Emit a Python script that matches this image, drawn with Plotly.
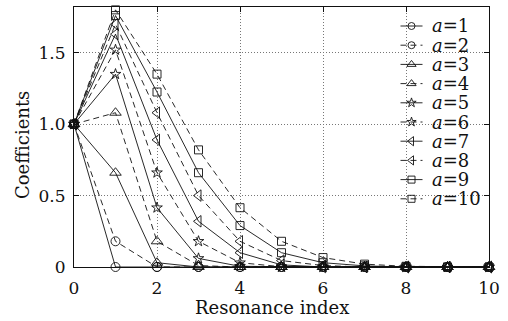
import plotly.graph_objects as go

# Resonance index n = 0..10
resonance_index = [0, 1, 2, 3, 4, 5, 6, 7, 8, 9, 10]

# Coefficient values for each parameter a
coef_a1 = [1.0, 0.00, 0.00, 0.00, 0.00, 0.00, 0.00, 0.00, 0.00, 0.00, 0.00]
coef_a2 = [1.0, 0.18, 0.00, 0.00, 0.00, 0.00, 0.00, 0.00, 0.00, 0.00, 0.00]
coef_a3 = [1.0, 0.66, 0.03, 0.00, 0.00, 0.00, 0.00, 0.00, 0.00, 0.00, 0.00]
coef_a4 = [1.0, 1.08, 0.18, 0.01, 0.00, 0.00, 0.00, 0.00, 0.00, 0.00, 0.00]
coef_a5 = [1.0, 1.35, 0.415, 0.06, 0.005, 0.00, 0.00, 0.00, 0.00, 0.00, 0.00]
coef_a6 = [1.0, 1.52, 0.66, 0.18, 0.03, 0.002, 0.00, 0.00, 0.00, 0.00, 0.00]
coef_a7 = [1.0, 1.63, 0.89, 0.32, 0.10, 0.015, 0.00, 0.00, 0.00, 0.00, 0.00]
coef_a8 = [1.0, 1.70, 1.08, 0.50, 0.18, 0.045, 0.01, 0.00, 0.00, 0.00, 0.00]
coef_a9 = [1.0, 1.76, 1.225, 0.66, 0.29, 0.10, 0.03, 0.008, 0.00, 0.00, 0.00]
coef_a10 = [1.0, 1.80, 1.35, 0.82, 0.415, 0.18, 0.066, 0.02, 0.005, 0.00, 0.00]

series_names = ["a=1", "a=2", "a=3", "a=4", "a=5", "a=6", "a=7", "a=8", "a=9", "a=10"]
series_labels = ["<i>a</i>=1", "<i>a</i>=2", "<i>a</i>=3", "<i>a</i>=4", "<i>a</i>=5",
                 "<i>a</i>=6", "<i>a</i>=7", "<i>a</i>=8", "<i>a</i>=9", "<i>a</i>=10"]
series_values = [coef_a1, coef_a2, coef_a3, coef_a4, coef_a5,
                 coef_a6, coef_a7, coef_a8, coef_a9, coef_a10]

x_ticks = [0, 2, 4, 6, 8, 10]
y_ticks = [0, 0.5, 1.0, 1.5]
y_tick_text = ["0", "0.5", "1.0", "1.5"]

symbols = ["circle-open", "circle-open", "triangle-up-open", "triangle-up-open",
           "star-open", "star-open", "triangle-left-open", "triangle-left-open",
           "square-open", "square-open"]
marker_sizes = [9, 9, 10, 10, 8, 8, 10, 10, 8, 8]
legend_marker_sizes = [7, 7, 8, 8, 7, 7, 8, 8, 7, 7]
dashes = ["solid", "6px,4px"] * 5

FONT = "DejaVu Serif"
INK = "#111111"

W, H = 508, 321
ML, MR, MT, MB = 74, 19, 7, 54
PW, PH = W - ML - MR, H - MT - MB


def px_to_paper(xp, yp):
    return (xp - ML) / PW, (H - MB - yp) / PH


fig = go.Figure()

for name, vals, sym, msize, dash in zip(series_names, series_values, symbols,
                                        marker_sizes, dashes):
    fig.add_trace(go.Scatter(
        x=resonance_index, y=vals, name=name, mode="lines+markers",
        line=dict(color=INK, width=0.9, dash=dash),
        marker=dict(symbol=sym, size=msize, color=INK, line=dict(width=0.9, color=INK)),
        cliponaxis=False, showlegend=False,
    ))

# Legend, drawn on an overlay axis pair spanning the plot area in [0, 1]
shapes = []
annotations = []
bx0, by0 = px_to_paper(391, 222)
bx1, by1 = px_to_paper(481, MT)
shapes.append(dict(type="rect", xref="paper", yref="paper", x0=bx0, x1=bx1, y0=by0, y1=by1,
                   fillcolor="white", line=dict(width=0), layer="between"))

row0, row_gap = 26.0, 19.2
for i, (label, sym, lsize, dash) in enumerate(zip(series_labels, symbols,
                                                  legend_marker_sizes, dashes)):
    yp = row0 + i * row_gap
    lx0, ly = px_to_paper(400.5, yp)
    lx1, _ = px_to_paper(422.5, yp)
    lxm = (lx0 + lx1) / 2
    fig.add_trace(go.Scatter(
        x=[lx0, lx1], y=[ly, ly], mode="lines", xaxis="x2", yaxis="y2",
        line=dict(color=INK, width=0.9, dash=dash), showlegend=False, hoverinfo="skip",
    ))
    fig.add_trace(go.Scatter(
        x=[lxm], y=[ly], mode="markers", xaxis="x2", yaxis="y2",
        marker=dict(symbol=sym, size=lsize, color=INK, line=dict(width=0.9, color=INK)),
        showlegend=False, hoverinfo="skip", cliponaxis=False,
    ))
    tx, _ = px_to_paper(429.5, yp)
    annotations.append(dict(x=tx, y=ly, xref="paper", yref="paper", text=label,
                            showarrow=False, xanchor="left", yanchor="middle",
                            font=dict(family=FONT, size=18, color=INK)))

# Axis titles
annotations.append(dict(x=px_to_paper(272, 0)[0], y=px_to_paper(0, 308)[1],
                        xref="paper", yref="paper", text="Resonance index",
                        showarrow=False, xanchor="center", yanchor="middle",
                        font=dict(family=FONT, size=18, color=INK)))
annotations.append(dict(x=px_to_paper(22, 0)[0], y=px_to_paper(0, 145)[1],
                        xref="paper", yref="paper", text="Coefficients", textangle=-90,
                        showarrow=False, xanchor="center", yanchor="middle",
                        font=dict(family=FONT, size=18, color=INK)))

axis_common = dict(
    showline=True, linecolor=INK, linewidth=1, mirror="ticks",
    ticks="inside", ticklen=5, tickwidth=1, tickcolor=INK,
    showgrid=True, gridcolor="#777777", gridwidth=1, griddash="1px,2px",
    zeroline=False, tickfont=dict(family=FONT, size=17, color=INK),
)

fig.update_layout(
    width=W, height=H,
    margin=dict(l=ML, r=MR, t=MT, b=MB),
    paper_bgcolor="white", plot_bgcolor="white",
    showlegend=False,
    xaxis=dict(range=[0, 10], tickvals=x_ticks, ticklabelstandoff=6, **axis_common),
    yaxis=dict(range=[0, 1.82], tickvals=y_ticks, ticktext=y_tick_text,
               ticklabelstandoff=4, **axis_common),
    xaxis2=dict(overlaying="x", range=[0, 1], visible=False, fixedrange=True),
    yaxis2=dict(overlaying="y", range=[0, 1], visible=False, fixedrange=True),
    shapes=shapes,
    annotations=annotations,
)

fig.write_html("out.html")
